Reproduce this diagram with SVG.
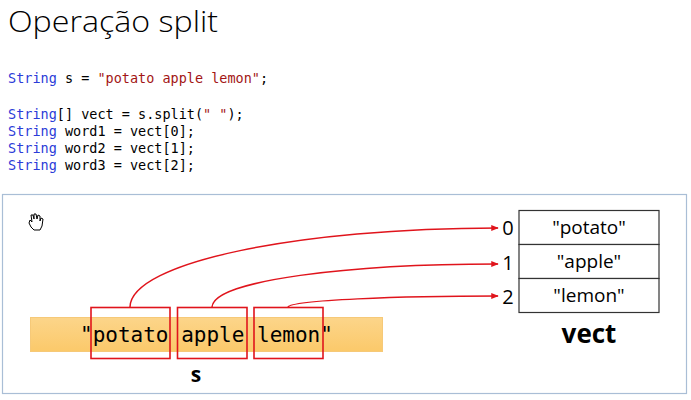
<svg xmlns="http://www.w3.org/2000/svg" width="691" height="400" viewBox="0 0 691 400">
<style>
.code{font-family:"DejaVu Sans Mono","Liberation Mono",monospace;font-size:13.5px;fill:#000}
.kw{fill:#2B3CD8}
.str{fill:#A31515}
.red{fill:none;stroke:#E0141C;stroke-width:1.6}
.cell{fill:#fff;stroke:#333;stroke-width:1.2}
.lbl{font-family:"Open Sans","Liberation Sans",sans-serif;fill:#000}
.conn{fill:none;stroke:#E0141C;stroke-width:1.5}
</style>
<defs>
<marker id="ah" viewBox="0 0 10 10" refX="9" refY="5" markerWidth="5" markerHeight="5" orient="auto">
<path d="M0,1 L10,5 L0,9 z" fill="#E0141C"/>
</marker>
<linearGradient id="og" x1="0" y1="0" x2="0" y2="1">
<stop offset="0" stop-color="#FCD58A"/>
<stop offset="1" stop-color="#FBC96A"/>
</linearGradient>
</defs>
<rect width="691" height="400" fill="#fff"/>
<text x="8" y="32" font-family="'Open Sans','Liberation Sans',sans-serif" font-weight="300" font-size="30" textLength="210" lengthAdjust="spacingAndGlyphs" fill="#000">Operação split</text>
<g id="code">
<text class="code" x="8" y="83"><tspan class="kw">String</tspan> s = <tspan class="str">"potato apple lemon"</tspan>;</text>
<text class="code" x="8" y="119"><tspan class="kw">String</tspan>[] vect = s.split(<tspan class="str">" "</tspan>);</text>
<text class="code" x="8" y="136"><tspan class="kw">String</tspan> word1 = vect[0];</text>
<text class="code" x="8" y="153"><tspan class="kw">String</tspan> word2 = vect[1];</text>
<text class="code" x="8" y="170"><tspan class="kw">String</tspan> word3 = vect[2];</text>
</g>
<rect id="panel" x="2.5" y="194.5" width="684" height="199" fill="#fff" stroke="#A9BED6" stroke-width="1.2"/>
<g id="cursor" fill="#fff" stroke="#000" stroke-width="1">
<path d="M30,220 L29,223 L31,227 L34,230 L40,230 L42,226 L43,219 L41,218 L40,221 L40,216 L38,215 L37,219 L36,214 L34,214 L34,219 L33,215 L31,215 L32,222 Z"/>
</g>
<g id="s">
<rect x="30.5" y="317.5" width="352" height="34" fill="url(#og)" stroke="#F6C978" stroke-width="1"/>
<text x="80" y="342" font-family="'DejaVu Sans Mono',monospace" font-size="21" fill="#000">"potato apple lemon"</text>
<rect class="red" x="91" y="307.5" width="79" height="51"/>
<rect class="red" x="177.5" y="307.5" width="69.5" height="51"/>
<rect class="red" x="254" y="307.5" width="69" height="51"/>
<text class="lbl" x="196" y="382" font-size="21" font-weight="bold" text-anchor="middle">s</text>
</g>
<g id="vect">
<rect class="cell" x="519" y="210.5" width="140" height="34"/>
<rect class="cell" x="519" y="244.5" width="140" height="34"/>
<rect class="cell" x="519" y="278.5" width="140" height="34"/>
<text class="lbl" x="589" y="234" font-size="19" text-anchor="middle">"potato"</text>
<text class="lbl" x="589" y="268" font-size="19" text-anchor="middle">"apple"</text>
<text class="lbl" x="589" y="302" font-size="19" text-anchor="middle">"lemon"</text>
<text class="lbl" x="508" y="235" font-size="20" text-anchor="middle">0</text>
<text class="lbl" x="508" y="270" font-size="20" text-anchor="middle">1</text>
<text class="lbl" x="508" y="304" font-size="20" text-anchor="middle">2</text>
<text class="lbl" x="589" y="343" font-size="26" font-weight="bold" text-anchor="middle">vect</text>
</g>
<g id="connectors">
<path class="conn" marker-end="url(#ah)" d="M130,307 C131,262 300,228 498,228"/>
<path class="conn" marker-end="url(#ah)" d="M212,307 C214,280 350,264 498,264"/>
<path class="conn" marker-end="url(#ah)" d="M288,307 C292,300 400,296 498,296"/>
</g>
</svg>
